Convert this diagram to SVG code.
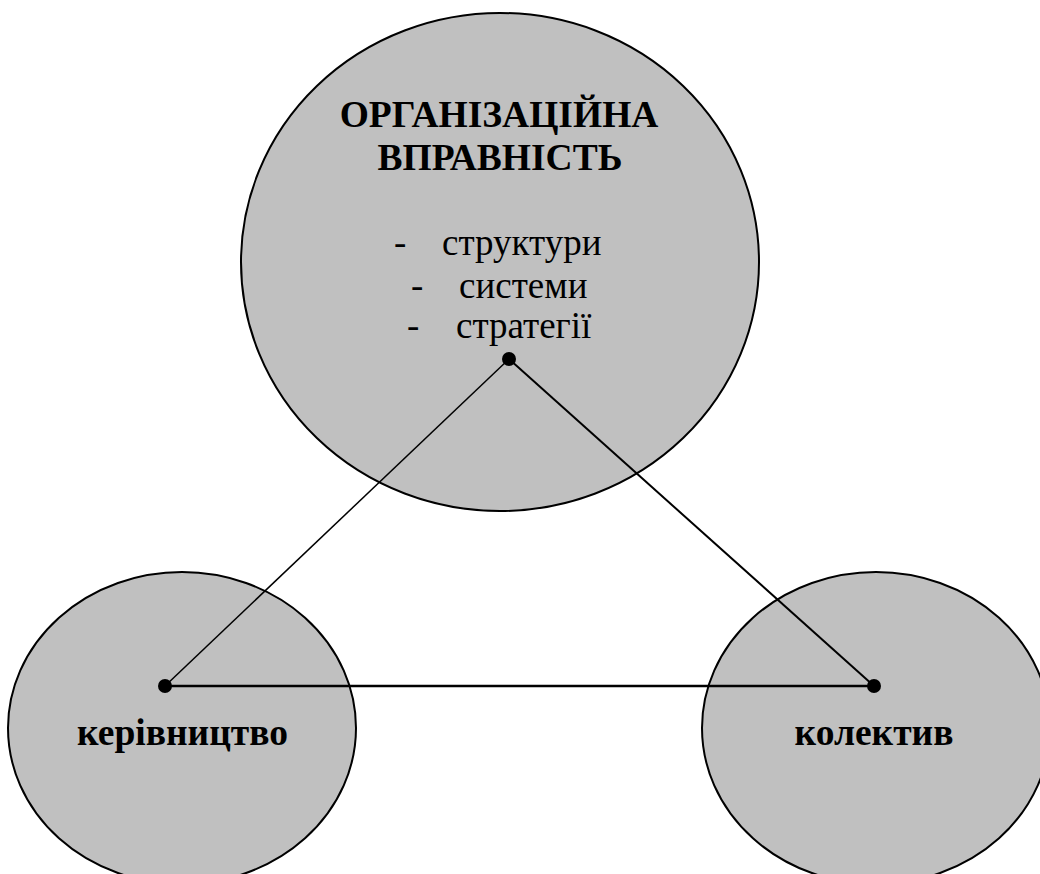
<svg xmlns="http://www.w3.org/2000/svg" width="1040" height="874" viewBox="0 0 1040 874">
<style>
.node{fill:#c0c0c0;stroke:#000;stroke-width:2}
.b{font-family:"Liberation Serif","Times New Roman",serif;font-weight:bold;fill:#000;font-size:37.5px}
.r{font-family:"Liberation Serif","Times New Roman",serif;fill:#000;font-size:37px}
.ln{stroke:#000;fill:none}
.dot{fill:#000}
</style>
<rect width="1040" height="874" fill="#fff"/>
<g id="org">
<ellipse class="node" cx="500" cy="262" rx="259" ry="249"/>
<text class="b" x="499" y="127" text-anchor="middle">ОРГАНІЗАЦІЙНА</text>
<text class="b" x="500" y="170" text-anchor="middle">ВПРАВНІСТЬ</text>
<text class="r" x="394" y="255">-</text>
<text class="r" x="442" y="255">структури</text>
<text class="r" x="411" y="298">-</text>
<text class="r" x="459" y="298">системи</text>
<text class="r" x="407" y="338">-</text>
<text class="r" x="456" y="338">стратегії</text>
</g>
<g id="ker">
<ellipse class="node" cx="182" cy="728" rx="174" ry="156"/>
<text class="b" x="182.5" y="745" text-anchor="middle">керівництво</text>
</g>
<g id="kol">
<ellipse class="node" cx="876" cy="728" rx="174" ry="156"/>
<text class="b" x="874" y="745" text-anchor="middle">колектив</text>
</g>
<g id="connectors">
<line class="ln" x1="509" y1="359" x2="165" y2="686" stroke-width="1.5"/>
<line class="ln" x1="509" y1="359" x2="874" y2="686" stroke-width="2"/>
<line class="ln" x1="165" y1="686" x2="874" y2="686" stroke-width="2.5"/>
<circle class="dot" cx="509" cy="359" r="7"/>
<circle class="dot" cx="165" cy="686" r="7"/>
<circle class="dot" cx="874" cy="686" r="7"/>
</g>
</svg>
